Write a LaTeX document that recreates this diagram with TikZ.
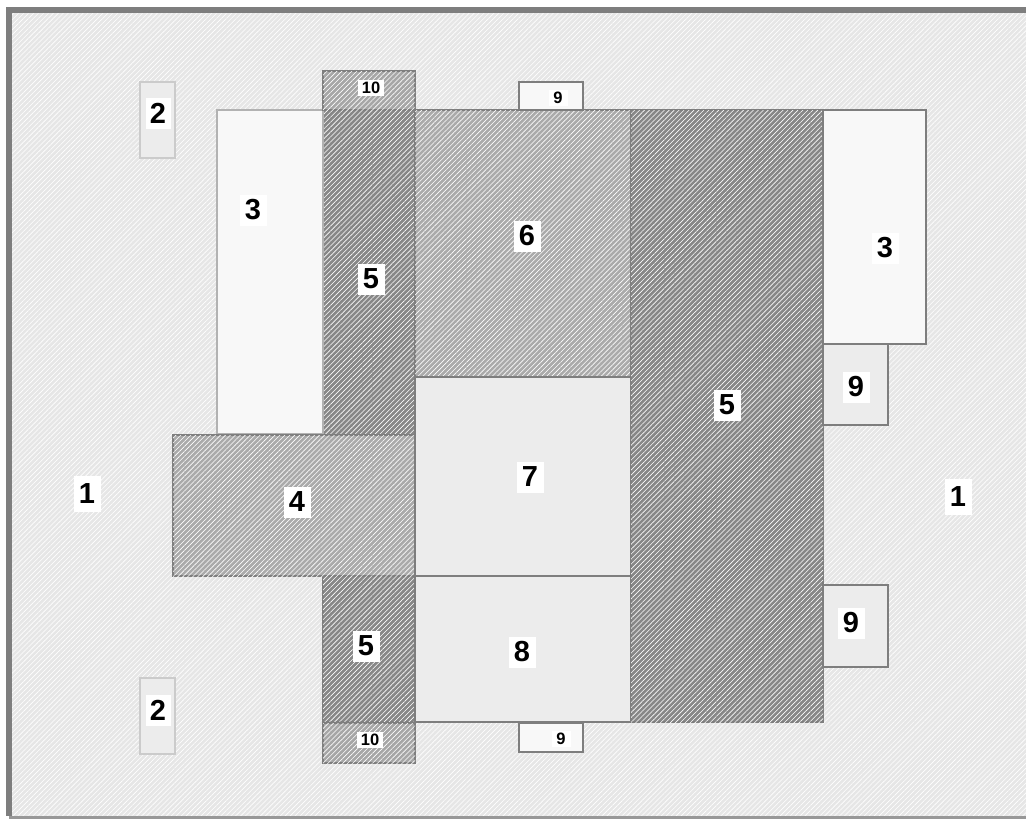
\documentclass[tikz,border=0pt]{standalone}
\usepackage{fontspec}
\setmainfont{Liberation Sans}
\usetikzlibrary{fit,patterns.meta}
\definecolor{edge}{HTML}{7E7E7E}
\definecolor{bgc}{HTML}{E6E6E6}
\definecolor{dark}{HTML}{878787}
\definecolor{mid}{HTML}{AAAAAA}
\definecolor{tenc}{HTML}{A6A6A6}
\definecolor{pale}{HTML}{ECECEC}
\definecolor{whitish}{HTML}{F8F8F8}
\begin{document}
\begin{tikzpicture}[x=1pt,y=-1pt,
  box/.style={draw=edge,line width=2pt,inner sep=0pt,outer sep=0pt},
  hatch/.style={postaction={fill opacity=0.22,pattern={Lines[angle=45,distance=3.5pt,line width=0.6pt]},pattern color=white}},
  lbl/.style={fill=white,inner sep=0pt,minimum width=27pt,minimum height=31pt,font=\bfseries\fontsize{29}{29}\selectfont},
  slbl/.style={fill=white,inner sep=0pt,minimum width=19pt,minimum height=16pt,font=\bfseries\fontsize{16.5}{16.5}\selectfont}]
\useasboundingbox (0,0) rectangle (1026,819);
% background and frame
\fill[bgc,hatch] (9,10) rectangle (1030,816);
\draw[edge,line width=6pt] (1040,10) -- (9,10) -- (9,816);
\draw[edge!80,line width=3pt] (9,817) -- (1040,817);
% boxes
\node[box,fill=dark,hatch,fit={(323,110) (415,722)}] (b5a) {};
\node[box,draw=edge!60,fill=whitish,fit={(217,110) (323,434)}] (b3a) {};
\node[box,fill=mid,hatch,fit={(173,435) (415,576)}] (b4) {};
\node[box,fill=mid,hatch,fit={(415,110) (631,377)}] (b6) {};
\node[box,fill=pale,fit={(415,377) (631,576)}] (b7) {};
\node[box,fill=pale,fit={(415,576) (631,722)}] (b8) {};
\node[box,fill=dark,hatch,fit={(631,110) (823,722)}] (b5b) {};
\node[box,fill=whitish,fit={(823,110) (926,344)}] (b3b) {};
\node[box,fill=pale,fit={(823,344) (888,425)}] (b9a) {};
\node[box,fill=pale,fit={(823,585) (888,667)}] (b9b) {};
\node[box,fill=whitish,fit={(519,82) (583,110)}] (b9c) {};
\node[box,fill=whitish,fit={(519,723) (583,752)}] (b9d) {};
\node[box,fill=tenc,hatch,fit={(323,71) (415,110)}] (b10a) {};
\node[box,fill=tenc,hatch,fit={(323,723) (415,763)}] (b10b) {};
\node[box,draw=edge!40,line width=1.5pt,fill=pale,fit={(140,82) (175,158)}] (b2a) {};
\node[box,draw=edge!40,line width=1.5pt,fill=pale,fit={(140,678) (175,754)}] (b2b) {};
% labels
\node[lbl,minimum height=36pt] (l1a) at (87,494) {1};
\node[lbl,minimum height=36pt] (l1b) at (958,497) {1};
\node[lbl,minimum width=25pt] (l2a) at (158,113) {2};
\node[lbl,minimum width=25pt] (l2b) at (158,710) {2};
\node[lbl] (l3a) at (253,210) {3};
\node[lbl] (l3b) at (885,248) {3};
\node[lbl] (l4) at (297,502) {4};
\node[lbl] (l5a) at (371,279) {5};
\node[lbl] (l5b) at (727,405) {5};
\node[lbl] (l5c) at (366,646) {5};
\node[lbl] (l6) at (527,236) {6};
\node[lbl] (l7) at (530,477) {7};
\node[lbl] (l8) at (522,652) {8};
\node[lbl] (l9a) at (856,387) {9};
\node[lbl] (l9b) at (851,623) {9};
\node[slbl] (l9c) at (558,98) {9};
\node[slbl] (l9d) at (561,739) {9};
\node[slbl,minimum width=26pt] (l10a) at (371,88) {10};
\node[slbl,minimum width=26pt] (l10b) at (370,740) {10};
\end{tikzpicture}
\end{document}
